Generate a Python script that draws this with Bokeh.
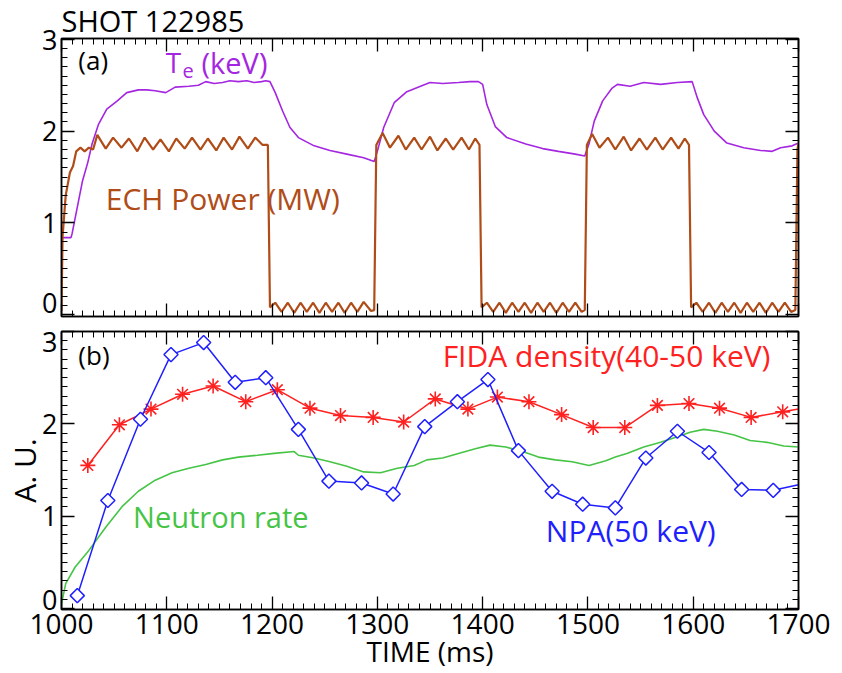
import math
from bokeh.plotting import figure
from bokeh.models import (Range1d, LinearAxis, Label, SingleIntervalTicker, FixedTicker,
                          CustomJSTickFormatter)
from bokeh.layouts import column
from bokeh.embed import file_html
from bokeh.resources import INLINE

FONT = "Open Sans"

# ---------------- data ----------------
shot_title = "SHOT 122985"
x_axis_title = "TIME (ms)"
y_axis_title_b = "A. U."

# Te (keV), panel (a)
te_t = [1000, 1001, 1009, 1010, 1020, 1025, 1029, 1035, 1043, 1053, 1062, 1073, 1081, 1089,
        1099, 1108, 1121, 1130, 1137, 1145, 1153, 1160, 1168, 1176, 1183, 1190, 1194, 1198,
        1203, 1210, 1217, 1225, 1240, 1255, 1271, 1287, 1297, 1300, 1306, 1316, 1328, 1341,
        1350, 1362, 1377, 1388, 1396, 1400, 1404, 1412, 1423, 1441, 1457, 1472, 1488, 1497,
        1501, 1506, 1514, 1523, 1528, 1540, 1553, 1569, 1585, 1599, 1604, 1610, 1620, 1632,
        1648, 1664, 1675, 1683, 1694, 1700]
te_v = [0.82, 0.84, 0.84, 0.88, 1.46, 1.66, 1.86, 2.07, 2.24, 2.33, 2.42, 2.45, 2.45, 2.44,
        2.42, 2.48, 2.49, 2.50, 2.54, 2.52, 2.53, 2.55, 2.54, 2.55, 2.53, 2.54, 2.55, 2.54,
        2.42, 2.22, 2.04, 1.93, 1.84, 1.79, 1.75, 1.71, 1.67, 1.78, 2.04, 2.31, 2.43, 2.49,
        2.53, 2.52, 2.53, 2.54, 2.54, 2.51, 2.29, 2.05, 1.93, 1.86, 1.81, 1.78, 1.75, 1.73,
        1.86, 2.11, 2.33, 2.47, 2.51, 2.49, 2.53, 2.51, 2.53, 2.54, 2.36, 2.18, 2.00, 1.87,
        1.82, 1.79, 1.78, 1.82, 1.84, 1.87]

# ECH power (MW), panel (a)
ech_t = [1000, 1001, 1004, 1008, 1011, 1014, 1018, 1022, 1026, 1030,
         1034, 1042, 1049, 1057, 1064, 1072, 1079, 1087, 1094, 1102, 1109, 1117,
         1124, 1132, 1139, 1147, 1154, 1162, 1169, 1177, 1184, 1191, 1196, 1198,
         1203, 1209, 1215, 1221, 1227, 1233, 1239, 1245, 1251, 1257, 1263, 1269,
         1275, 1281, 1287, 1294, 1297, 1299,
         1305, 1312, 1320, 1327, 1335, 1342, 1350, 1357, 1365, 1372, 1380, 1387,
         1393, 1397, 1399,
         1404, 1410, 1416, 1422, 1428, 1434, 1440, 1446, 1452, 1458, 1464, 1470,
         1476, 1482, 1488, 1494, 1497, 1499,
         1504, 1511, 1519, 1526, 1534, 1541, 1549, 1556, 1564, 1571, 1579, 1586,
         1592, 1596, 1598,
         1603, 1609, 1615, 1621, 1627, 1633, 1639, 1645, 1651, 1657, 1663, 1669,
         1675, 1681, 1687, 1693, 1697, 1699, 1700]
ech_v = [0.04, 0.85, 1.30, 1.55, 1.62, 1.78, 1.82, 1.78, 1.82, 1.80,
         1.96, 1.81, 1.93, 1.82, 1.92, 1.78, 1.93, 1.80, 1.91, 1.78, 1.92, 1.81,
         1.93, 1.80, 1.92, 1.79, 1.93, 1.80, 1.94, 1.81, 1.93, 1.85, 1.85, 0.08,
         0.13, 0.03, 0.13, 0.02, 0.13, 0.03, 0.13, 0.02, 0.13, 0.03, 0.13, 0.02,
         0.13, 0.03, 0.14, 0.04, 0.05, 1.85,
         1.98, 1.82, 1.95, 1.80, 1.93, 1.80, 1.94, 1.79, 1.92, 1.80, 1.93, 1.80,
         1.92, 1.85, 0.08,
         0.13, 0.03, 0.13, 0.02, 0.13, 0.03, 0.13, 0.02, 0.13, 0.03, 0.13, 0.02,
         0.13, 0.03, 0.13, 0.03, 0.05, 1.85,
         1.97, 1.82, 1.93, 1.80, 1.94, 1.79, 1.92, 1.80, 1.93, 1.80, 1.93, 1.81,
         1.92, 1.85, 0.08,
         0.13, 0.03, 0.13, 0.02, 0.13, 0.03, 0.13, 0.02, 0.13, 0.03, 0.13, 0.02,
         0.13, 0.03, 0.13, 0.03, 0.05, 1.80, 1.87]

# Neutron rate, panel (b)
nr_t = [1000, 1004, 1013, 1026, 1042, 1058, 1073, 1089, 1105, 1121, 1137, 1153, 1168, 1186,
        1202, 1221, 1225, 1240, 1255, 1271, 1287, 1303, 1319, 1335, 1347, 1362, 1377, 1393,
        1407, 1422, 1438, 1453, 1469, 1485, 1501, 1517, 1526, 1537, 1553, 1569, 1585, 1597,
        1610, 1623, 1639, 1654, 1670, 1686, 1700]
nr_v = [0.05, 0.27, 0.45, 0.63, 0.88, 1.11, 1.27, 1.39, 1.47, 1.52, 1.56, 1.61, 1.64, 1.66,
        1.68, 1.70, 1.66, 1.63, 1.59, 1.54, 1.48, 1.47, 1.52, 1.55, 1.61, 1.63, 1.68, 1.73,
        1.77, 1.75, 1.70, 1.64, 1.61, 1.59, 1.55, 1.60, 1.64, 1.68, 1.75, 1.80, 1.86, 1.91,
        1.94, 1.92, 1.88, 1.82, 1.80, 1.76, 1.75]

# FIDA density (40-50 keV), panel (b)
fida_t = [1025, 1055, 1085, 1115, 1144, 1175, 1205, 1236, 1265, 1296, 1325, 1355,
          1386, 1414, 1444, 1475, 1505, 1535, 1566, 1596, 1625, 1655, 1685]
fida_v = [1.55, 1.99, 2.16, 2.32, 2.41, 2.24, 2.37, 2.17, 2.09, 2.07, 2.02, 2.27,
          2.16, 2.29, 2.24, 2.10, 1.96, 1.96, 2.20, 2.22, 2.17, 2.07, 2.13]
fida_edge_t, fida_edge_v = 1700, 2.16

# NPA (50 keV), panel (b)
npa_t = [1015, 1044, 1075, 1104, 1135, 1165, 1194, 1225, 1254, 1285, 1315, 1345,
         1376, 1405, 1434, 1466, 1495, 1526, 1555, 1585, 1615, 1646, 1676]
npa_v = [0.14, 1.17, 2.05, 2.75, 2.88, 2.45, 2.50, 1.94, 1.38, 1.36, 1.24, 1.97,
         2.24, 2.48, 1.71, 1.27, 1.13, 1.09, 1.63, 1.92, 1.69, 1.29, 1.28]
npa_edge_t, npa_edge_v = 1700, 1.34

# y tick-label placement (end labels sit slightly inside the frame, as in the original)
ytick_pos_a = [0.13, 1.0, 2.0, 2.99]
ytick_pos_b = [0.09, 1.0, 2.0, 2.89]

# ---------------- styling ----------------
PURPLE = "#a526e0"
BROWN = "#b04c18"
RED = "#ff2020"
BLUE = "#2020ff"
GREEN = "#46c446"

W = 840


def tick_axis(interval, labels=False, fs="28px"):
    ax = LinearAxis(ticker=SingleIntervalTicker(interval=interval, num_minor_ticks=10))
    ax.axis_line_color = "black"
    ax.axis_line_width = 1.5
    ax.major_tick_in = 13
    ax.major_tick_out = 0
    ax.minor_tick_in = 6
    ax.minor_tick_out = 0
    ax.major_tick_line_color = "black"
    ax.minor_tick_line_color = "black"
    ax.major_tick_line_width = 1.3
    ax.minor_tick_line_width = 1
    ax.major_label_text_font = FONT
    ax.major_label_text_line_height = 1.0
    ax.axis_label_text_font = FONT
    ax.axis_label_text_font_style = "normal"
    ax.axis_label_text_color = "black"
    ax.axis_label_text_line_height = 1.0
    if labels:
        ax.major_label_text_font_size = fs
        ax.major_label_text_color = "black"
        ax.major_label_standoff = 4
    else:
        ax.major_label_text_font_size = "1px"
        ax.major_label_text_color = None
        ax.major_label_standoff = 0
    return ax


def label_axis(positions):
    ax = LinearAxis(ticker=FixedTicker(ticks=positions, minor_ticks=[]),
                    formatter=CustomJSTickFormatter(code="return Math.round(tick).toString();"))
    ax.axis_line_color = None
    ax.major_tick_line_color = None
    ax.minor_tick_line_color = None
    ax.major_tick_in = 0
    ax.major_tick_out = 0
    ax.minor_tick_in = 0
    ax.minor_tick_out = 0
    ax.major_label_text_font = FONT
    ax.major_label_text_font_size = "27px"
    ax.major_label_text_color = "black"
    ax.major_label_text_line_height = 1.0
    ax.major_label_standoff = 4
    ax.axis_label_text_font = FONT
    ax.axis_label_text_font_style = "normal"
    ax.axis_label_text_font_size = "30px"
    ax.axis_label_text_color = "black"
    ax.axis_label_text_line_height = 1.0
    ax.axis_label_standoff = -6
    return ax


def make_fig(height, top, bottom, yr, ytick_pos):
    p = figure(width=W, height=height, output_backend="svg", toolbar_location=None,
               x_range=Range1d(1000, 1700), y_range=yr,
               x_axis_location=None, y_axis_location=None,
               min_border_left=61, min_border_right=42,
               min_border_top=top, min_border_bottom=bottom)
    p.xgrid.visible = False
    p.ygrid.visible = False
    p.outline_line_color = "black"
    p.outline_line_width = 1.5
    p.background_fill_color = "white"
    p.border_fill_color = "white"
    p.add_layout(tick_axis(1), "left")
    lab = label_axis(ytick_pos)
    p.add_layout(lab, "left")
    p.add_layout(tick_axis(1), "right")
    p.add_layout(tick_axis(100), "above")
    return p, lab


def txt(p, x, y, s, color="black", size="26px", baseline="alphabetic"):
    p.add_layout(Label(x=x, y=y, text=s, text_font=FONT, text_font_size=size,
                       text_color=color, text_baseline=baseline))


# ---------------- panel (a) ----------------
pa, laba = make_fig(322, 37, 6, Range1d(-0.02, 3.01), ytick_pos_a)
pa.add_layout(tick_axis(100), "below")

pa.title.text = shot_title
pa.title.text_font = FONT
pa.title.text_font_style = "normal"
pa.title.text_font_size = "29px"
pa.title.text_color = "black"
pa.title.align = "left"
pa.title.standoff = -3
pa.title.text_line_height = 1.0

pa.line(te_t, te_v, line_color=PURPLE, line_width=1.6)
pa.line(ech_t, ech_v, line_color=BROWN, line_width=2.2)

txt(pa, 1016, 2.78, "(a)", size="26px", baseline="middle")
txt(pa, 1099, 2.75, "T", color=PURPLE, size="28px")
txt(pa, 1115, 2.66, "e", color=PURPLE, size="20px")
txt(pa, 1133, 2.75, "(keV)", color=PURPLE, size="29px")
txt(pa, 1042, 1.27, "ECH Power (MW)", color=BROWN, size="30px")

# ---------------- panel (b) ----------------
pb, labb = make_fig(350, 9, 61, Range1d(-0.01, 3.0), ytick_pos_b)
labb.axis_label = y_axis_title_b
xb = tick_axis(100, labels=True, fs="28px")
xb.axis_label = x_axis_title
xb.axis_label_text_font_size = "28px"
xb.axis_label_standoff = -5
pb.add_layout(xb, "below")

pb.line(nr_t, nr_v, line_color=GREEN, line_width=1.6)
pb.line(fida_t + [fida_edge_t], fida_v + [fida_edge_v], line_color=RED, line_width=1.5)
pb.scatter(fida_t, fida_v, marker="asterisk", size=15, line_color=RED, line_width=1.6)
pb.line(npa_t + [npa_edge_t], npa_v + [npa_edge_v], line_color=BLUE, line_width=1.5)
pb.scatter(npa_t, npa_v, marker="square", angle=math.pi / 4, size=10, line_color=BLUE,
           fill_color="white", line_width=1.5)

txt(pb, 1016, 2.75, "(b)", size="26px", baseline="middle")
txt(pb, 1362, 2.74, "FIDA density(40-50 keV)", color=RED, size="30px")
txt(pb, 1068, 1.00, "Neutron rate", color=GREEN, size="29px")
txt(pb, 1460, 0.84, "NPA(50 keV)", color=BLUE, size="30px")

layout = column(pa, pb, spacing=0)

with open("out.html", "w") as f:
    f.write(file_html(layout, INLINE))
